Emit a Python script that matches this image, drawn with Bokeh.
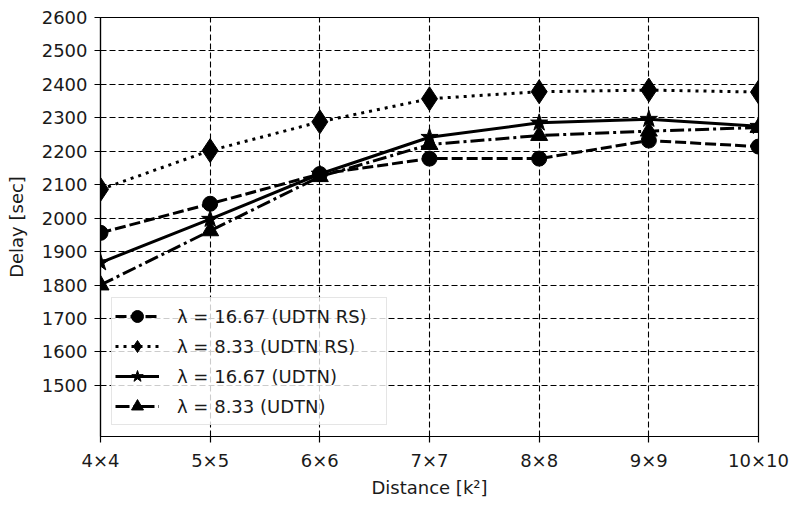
from bokeh.plotting import figure
from bokeh.models import Range1d, FixedTicker, Legend, LegendItem
from bokeh.embed import file_html
from bokeh.resources import INLINE

# ---- data ----
categories = ["4×4", "5×5", "6×6", "7×7", "8×8", "9×9", "10×10"]
x_pos = [0, 1, 2, 3, 4, 5, 6]
y_ticks = [1500, 1600, 1700, 1800, 1900, 2000, 2100, 2200, 2300, 2400, 2500, 2600]

udtn_rs_1667 = [1956, 2043, 2132, 2178, 2178, 2232, 2214]
udtn_rs_833 = [2086, 2202, 2288, 2357, 2378, 2383, 2377]
udtn_1667 = [1867, 1997, 2132, 2242, 2285, 2296, 2275]
udtn_833 = [1800, 1962, 2124, 2220, 2247, 2260, 2271]

labels = ["λ = 16.67 (UDTN RS)", "λ = 8.33 (UDTN RS)", "λ = 16.67 (UDTN)", "λ = 8.33 (UDTN)"]

FONT = "DejaVu Sans"
TXT = "#1a1a1a"

p = figure(width=790, height=500, output_backend="svg", toolbar_location=None,
           x_range=Range1d(0, 6), y_range=Range1d(1347, 2600),
           min_border_left=100, min_border_right=32, min_border_top=17, min_border_bottom=62)

p.background_fill_color = "white"
p.outline_line_color = "black"
p.outline_line_width = 1.2
p.outline_line_alpha = 1.0

for ax in (p.xaxis[0], p.yaxis[0]):
    ax.axis_line_color = "black"
    ax.axis_line_width = 1.2
    ax.major_tick_line_color = "black"
    ax.major_tick_line_width = 1.2
    ax.major_tick_out = 6
    ax.major_tick_in = 0
    ax.minor_tick_line_color = None
    ax.major_label_text_font = FONT
    ax.major_label_text_font_size = "18px"
    ax.major_label_text_color = TXT
    ax.axis_label_text_font = FONT
    ax.axis_label_text_font_size = "18px"
    ax.axis_label_text_font_style = "normal"
    ax.axis_label_text_color = TXT

p.xaxis.ticker = FixedTicker(ticks=x_pos)
p.xaxis.major_label_overrides = {x: c for x, c in zip(x_pos, categories)}
p.xaxis.axis_label = "Distance [k²]"
p.xaxis.major_label_standoff = 7
p.xaxis.axis_label_standoff = 3

p.yaxis.ticker = FixedTicker(ticks=y_ticks)
p.yaxis.axis_label = "Delay [sec]"
p.yaxis.major_label_standoff = 7
p.yaxis.axis_label_standoff = 12

for g in (p.xgrid[0], p.ygrid[0]):
    g.grid_line_color = "black"
    g.grid_line_width = 1.1
    g.grid_line_dash = "6 3"
    g.grid_line_alpha = 1.0
p.xgrid.ticker = FixedTicker(ticks=x_pos)
p.ygrid.ticker = FixedTicker(ticks=y_ticks)

series = [
    (udtn_rs_1667, "11 4", "circle", 15),
    (udtn_rs_833, "3 5", "diamond", 24),
    (udtn_1667, "solid", "star", 18),
    (udtn_833, "14 4 3 4", "triangle", 17),
]

items = []
for (vals, dash, marker, size), lab in zip(series, labels):
    lr = p.line(x_pos, vals, line_color="black", line_width=3, line_dash=dash)
    sr = p.scatter(x_pos, vals, marker=marker, size=size, fill_color="black", line_color="black")
    items.append(LegendItem(label=lab, renderers=[lr, sr]))

legend = Legend(items=items, location=(11, 11))
legend.label_text_font = FONT
legend.label_text_font_size = "18px"
legend.label_text_color = TXT
legend.glyph_width = 44
legend.glyph_height = 30
legend.label_height = 24
legend.label_width = 206
legend.spacing = 0
legend.padding = 3
legend.margin = 0
legend.label_standoff = 18
legend.border_line_color = "#cccccc"
legend.border_line_width = 1
legend.background_fill_color = "white"
legend.background_fill_alpha = 0.8
p.add_layout(legend, "center")

open("out.html", "w").write(file_html(p, INLINE))
